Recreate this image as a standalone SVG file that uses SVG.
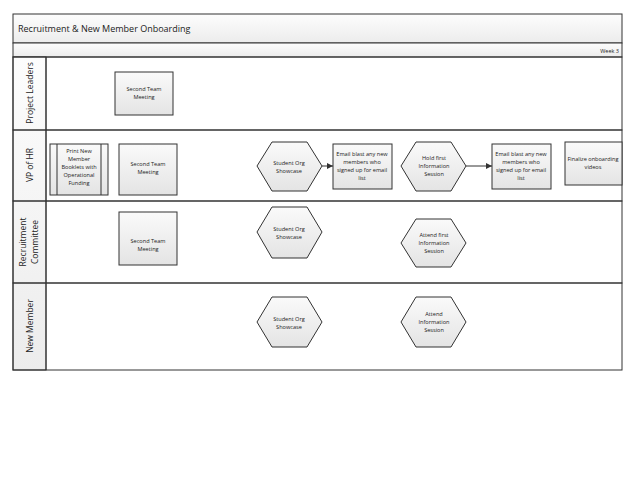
<svg xmlns="http://www.w3.org/2000/svg" width="638" height="494" viewBox="0 0 638 494">
<style>
text{font-family:"Open Sans","Liberation Sans",sans-serif;fill:#222}
.t{font-size:5.6px;text-anchor:middle}
.n{fill:url(#g);stroke:#333;stroke-width:1}
.lane{fill:none;stroke:#333;stroke-width:1}
.ln{font-size:8.5px;text-anchor:middle}
</style>
<defs>
<linearGradient id="g" x1="0" y1="0" x2="0" y2="1"><stop offset="0" stop-color="#fafafa"/><stop offset="1" stop-color="#e4e4e4"/></linearGradient>
<linearGradient id="h" x1="0" y1="0" x2="0" y2="1"><stop offset="0" stop-color="#fdfdfd"/><stop offset="1" stop-color="#ececec"/></linearGradient>
<marker id="a" markerWidth="7" markerHeight="6" refX="6" refY="3" orient="auto"><path d="M0,0L6,3L0,6z" fill="#333"/></marker>
</defs>
<rect width="638" height="494" fill="#fff"/>
<g id="frame">
<rect x="13" y="14" width="609" height="29" fill="url(#h)" stroke="#333"/>
<text x="18" y="32" style="font-size:9px">Recruitment &amp; New Member Onboarding</text>
<rect x="13" y="43" width="609" height="14" fill="url(#h)" stroke="#333"/>
<text x="619" y="53" style="font-size:5.5px;text-anchor:end">Week 3</text>
<rect x="13" y="57" width="33" height="313" fill="url(#h)" stroke="#333"/>
<rect class="lane" x="13" y="57" width="609" height="73"/>
<rect class="lane" x="13" y="130" width="609" height="71"/>
<rect class="lane" x="13" y="201" width="609" height="82"/>
<rect class="lane" x="13" y="283" width="609" height="87"/>
<line x1="46" y1="57" x2="46" y2="370" stroke="#333"/>
<text class="ln" transform="translate(33,93) rotate(-90)">Project Leaders</text>
<text class="ln" transform="translate(33,165) rotate(-90)">VP of HR</text>
<text class="ln" transform="translate(26,242) rotate(-90)">Recruitment</text>
<text class="ln" transform="translate(38,242) rotate(-90)">Committee</text>
<text class="ln" transform="translate(33,326) rotate(-90)">New Member</text>
</g>
<g id="connectors" stroke="#333" fill="none">
<line x1="322" y1="166" x2="333" y2="166" marker-end="url(#a)"/>
<line x1="466" y1="166" x2="492" y2="166" marker-end="url(#a)"/>
</g>
<g id="pl-meeting"><rect class="n" x="115" y="72" width="58" height="43"/><text class="t" x="144" y="91">Second Team</text><text class="t" x="144" y="99">Meeting</text></g>
<g id="print"><rect class="n" x="50" y="144" width="58" height="51"/><line x1="57" y1="144" x2="57" y2="195" stroke="#333"/><line x1="101" y1="144" x2="101" y2="195" stroke="#333"/>
<text class="t" x="79" y="153">Print New</text><text class="t" x="79" y="161">Member</text><text class="t" x="79" y="169">Booklets with</text><text class="t" x="79" y="177">Operational</text><text class="t" x="79" y="185">Funding</text></g>
<g id="vp-meeting"><rect class="n" x="119" y="144" width="58" height="51"/><text class="t" x="148" y="166">Second Team</text><text class="t" x="148" y="174">Meeting</text></g>
<g id="vp-showcase"><polygon class="n" points="257,166 272,142 307,142 322,166 307,191 272,191"/><text class="t" x="289" y="165">Student Org</text><text class="t" x="289" y="173">Showcase</text></g>
<g id="email1"><rect class="n" x="333" y="144" width="59" height="45"/><text class="t" x="362" y="156">Email blast any new</text><text class="t" x="362" y="164">members who</text><text class="t" x="362" y="172">signed up for email</text><text class="t" x="362" y="180">list</text></g>
<g id="hold"><polygon class="n" points="401,166 416,142 451,142 466,166 451,191 416,191"/><text class="t" x="434" y="160">Hold first</text><text class="t" x="434" y="168">Information</text><text class="t" x="434" y="176">Session</text></g>
<g id="email2"><rect class="n" x="492" y="144" width="59" height="45"/><text class="t" x="521" y="156">Email blast any new</text><text class="t" x="521" y="164">members who</text><text class="t" x="521" y="172">signed up for email</text><text class="t" x="521" y="180">list</text></g>
<g id="finalize"><rect class="n" x="565" y="142" width="57" height="43"/><text class="t" x="593" y="161">Finalize onboarding</text><text class="t" x="593" y="169">videos</text></g>
<g id="rc-meeting"><rect class="n" x="119" y="212" width="58" height="53"/><text class="t" x="148" y="243">Second Team</text><text class="t" x="148" y="251">Meeting</text></g>
<g id="rc-showcase"><polygon class="n" points="257,232 272,207 307,207 322,232 307,258 272,258"/><text class="t" x="289" y="231">Student Org</text><text class="t" x="289" y="239">Showcase</text></g>
<g id="rc-attend"><polygon class="n" points="401,243 416,219 451,219 466,243 451,267 416,267"/><text class="t" x="434" y="237">Attend first</text><text class="t" x="434" y="245">Information</text><text class="t" x="434" y="253">Session</text></g>
<g id="nm-showcase"><polygon class="n" points="257,322 272,297 307,297 322,322 307,347 272,347"/><text class="t" x="289" y="321">Student Org</text><text class="t" x="289" y="329">Showcase</text></g>
<g id="nm-attend"><polygon class="n" points="401,322 416,297 451,297 466,322 451,347 416,347"/><text class="t" x="434" y="316">Attend</text><text class="t" x="434" y="324">Information</text><text class="t" x="434" y="332">Session</text></g>
</svg>
